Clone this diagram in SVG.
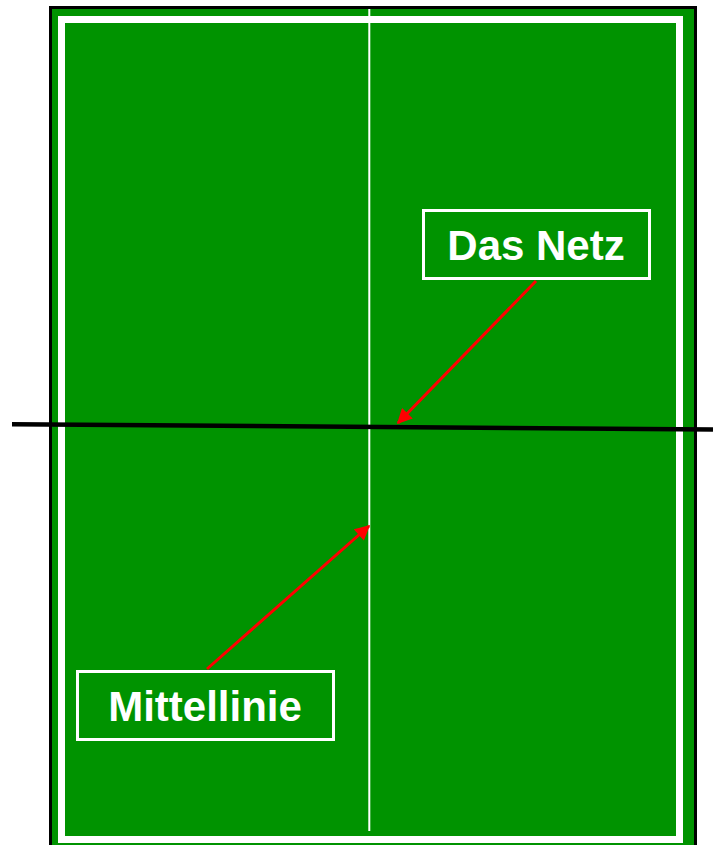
<svg xmlns="http://www.w3.org/2000/svg" width="713" height="845" viewBox="0 0 713 845">
  <style>
    .label-box { fill: none; stroke: #ffffff; stroke-width: 3; }
    .label-text { font-family: "Liberation Sans", Arial, sans-serif; font-weight: bold; font-size: 42px; fill: #ffffff; text-anchor: middle; }
    .pointer { stroke: #ff0000; stroke-width: 3; fill: none; marker-end: url(#arrow); }
  </style>
  <defs>
    <marker id="arrow" viewBox="0 0 10 10" refX="9" refY="5" markerWidth="5.5" markerHeight="5" markerUnits="strokeWidth" orient="auto">
      <path d="M0,0 L10,5 L0,10 z" fill="#ff0000"/>
    </marker>
  </defs>
  <rect width="713" height="845" fill="#ffffff"/>

  <!-- table surface -->
  <g id="table">
    <rect x="50.5" y="7.5" width="645" height="850" fill="#009300" stroke="#000000" stroke-width="3"/>
    <rect x="61.5" y="19.5" width="618" height="820" fill="none" stroke="#ffffff" stroke-width="7"/>
    <line id="centre-line" x1="369.3" y1="9" x2="369.3" y2="831" stroke="#ffffff" stroke-width="2"/>
  </g>

  <!-- net across the table -->
  <g id="net">
    <line x1="12" y1="424.2" x2="713" y2="429.6" stroke="#000000" stroke-width="4.5"/>
  </g>

  <g id="label-netz">
    <rect class="label-box" x="423.5" y="210.5" width="226" height="68"/>
    <text class="label-text" x="536" y="260">Das Netz</text>
  </g>

  <g id="label-mittellinie">
    <rect class="label-box" x="77.5" y="671.5" width="256" height="68"/>
    <text class="label-text" x="205" y="721">Mittellinie</text>
  </g>

  <g id="connectors">
    <line class="pointer" x1="536" y1="281" x2="398" y2="423"/>
    <line class="pointer" x1="207" y1="669" x2="369" y2="526"/>
  </g>
</svg>
